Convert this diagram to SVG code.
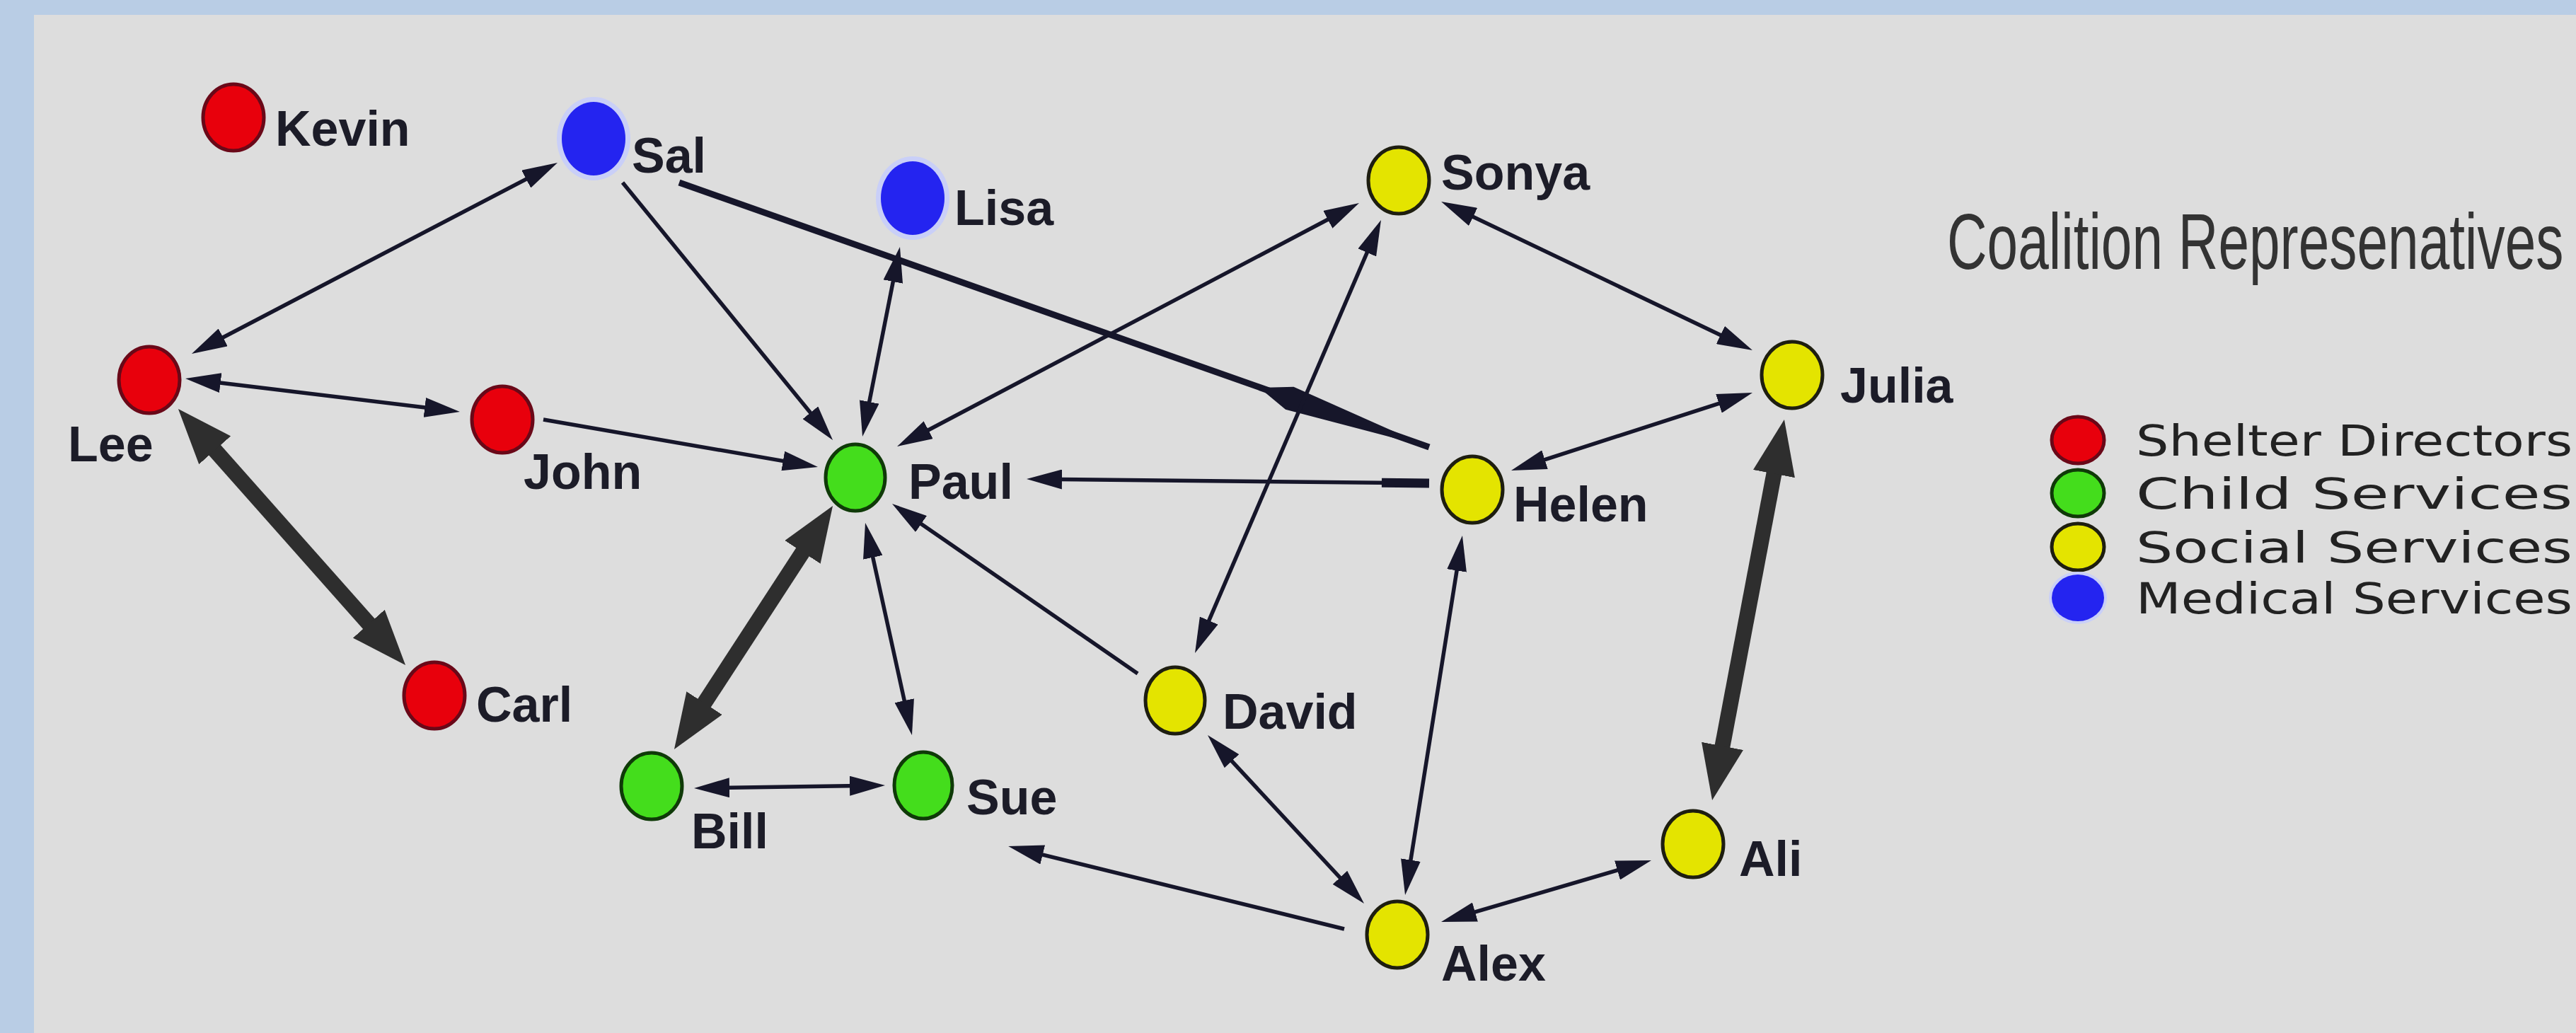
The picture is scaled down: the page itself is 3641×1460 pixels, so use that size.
<svg xmlns="http://www.w3.org/2000/svg" width="3641" height="1460" viewBox="0 0 3641 1460">
<defs>
<style>
.lbl{font-family:"Liberation Sans",Arial,sans-serif;font-weight:bold;font-size:70px;fill:#1c1c28}
.thin{stroke:#16162a;stroke-width:5.5;fill:none}
.thick{stroke:#2e2e2e;stroke-width:22;fill:none}
.red{fill:#e8000c;stroke:#6a0818;stroke-width:5}
.green{fill:#44dd1c;stroke:#0f3a08;stroke-width:5}
.yellow{fill:#e4e400;stroke:#1e1e10;stroke-width:5}
.blue{fill:#2424f0}
.halo{fill:#c9cff8}
.leg{font-family:"DejaVu Sans",Verdana,sans-serif;font-size:60px;fill:#222}
.title{font-family:"Liberation Sans",Arial,sans-serif;font-size:112px;fill:#333}
</style>
<marker id="a" markerUnits="userSpaceOnUse" viewBox="0 0 50 28" refX="30" refY="14" markerWidth="50" markerHeight="28" orient="auto-start-reverse">
<path d="M0,0 L50,14 L0,28 z" fill="#16162a"/>
</marker>
<marker id="A" markerUnits="userSpaceOnUse" viewBox="0 0 78 60" refX="38" refY="30" markerWidth="78" markerHeight="60" orient="auto-start-reverse">
<path d="M0,0 L78,30 L0,60 z" fill="#2e2e2e"/>
</marker>
</defs>
<rect x="0" y="0" width="3641" height="1460" fill="#b9cde5"/>
<rect x="48" y="21" width="3593" height="1439" fill="#dddddd"/>

<g id="connectors">
<line class="thin" x1="288.7" y1="490.7" x2="770.3" y2="239.3" marker-start="url(#a)" marker-end="url(#a)"/>
<line class="thin" x1="281.9" y1="537.4" x2="630.1" y2="579.6" marker-start="url(#a)" marker-end="url(#a)"/>
<line class="thick" x1="278.5" y1="607.9" x2="546.5" y2="910.1" marker-start="url(#A)" marker-end="url(#A)"/>
<line class="thin" x1="768" y1="593" x2="1136.3" y2="656.6" marker-end="url(#a)"/>
<line class="thin" x1="880" y1="258" x2="1164.4" y2="606.5" marker-end="url(#a)"/>
<line class="thin" x1="960" y1="258" x2="2020" y2="632" style="stroke-width:9"/>
<polygon points="1780,548 1828.5,546.7 2020,632 1817,578.7" fill="#16162a"/>
<line class="thin" x1="1268.1" y1="368.6" x2="1222.9" y2="597.4" marker-start="url(#a)" marker-end="url(#a)"/>
<line class="thin" x1="1903.3" y1="296.3" x2="1285.7" y2="621.7" marker-start="url(#a)" marker-end="url(#a)"/>
<line class="thin" x1="1944.1" y1="329.4" x2="1696.9" y2="904.6" marker-start="url(#a)" marker-end="url(#a)"/>
<line class="thin" x1="2055.1" y1="293.6" x2="2458.9" y2="486.4" marker-start="url(#a)" marker-end="url(#a)"/>
<line class="thin" x1="2458" y1="561.1" x2="2155" y2="658.9" marker-start="url(#a)" marker-end="url(#a)"/>
<line class="thin" x1="2020" y1="683" x2="1471" y2="677.2" marker-end="url(#a)"/>
<line class="thin" x1="1953" y1="682.3" x2="2020" y2="683" style="stroke-width:13"/>
<line class="thick" x1="1155.2" y1="748.5" x2="974.8" y2="1025.5" marker-start="url(#A)" marker-end="url(#A)"/>
<line class="thin" x1="1227.3" y1="758.5" x2="1284.7" y2="1019.5" marker-start="url(#a)" marker-end="url(#a)"/>
<line class="thin" x1="1608" y1="952" x2="1277.4" y2="723.4" marker-end="url(#a)"/>
<line class="thin" x1="1001" y1="1113.7" x2="1231" y2="1110.3" marker-start="url(#a)" marker-end="url(#a)"/>
<line class="thin" x1="1900" y1="1313" x2="1444.6" y2="1200.8" marker-end="url(#a)"/>
<line class="thin" x1="1720.6" y1="1053.7" x2="1914.4" y2="1262.3" marker-start="url(#a)" marker-end="url(#a)"/>
<line class="thin" x1="2063.8" y1="776.8" x2="1989.2" y2="1245.2" marker-start="url(#a)" marker-end="url(#a)"/>
<line class="thin" x1="2056.2" y1="1297.4" x2="2314.8" y2="1221.6" marker-start="url(#a)" marker-end="url(#a)"/>
<line class="thick" x1="2514.5" y1="632.3" x2="2427.5" y2="1091.7" marker-start="url(#A)" marker-end="url(#A)"/>
</g>

<g id="node-Kevin"><ellipse class="red" cx="330" cy="166" rx="43" ry="47"/><text class="lbl" x="389" y="206">Kevin</text></g>
<g id="node-Sal"><ellipse class="halo" cx="839" cy="196" rx="52" ry="59"/><ellipse class="blue" cx="839" cy="196" rx="45" ry="52"/><text class="lbl" x="893" y="244">Sal</text></g>
<g id="node-Lisa"><ellipse class="halo" cx="1290" cy="280" rx="52" ry="59"/><ellipse class="blue" cx="1290" cy="280" rx="45" ry="52"/><text class="lbl" x="1349" y="318">Lisa</text></g>
<g id="node-Sonya"><ellipse class="yellow" cx="1977" cy="255" rx="43" ry="47"/><text class="lbl" x="2037" y="268">Sonya</text></g>
<g id="node-Julia"><ellipse class="yellow" cx="2533" cy="530" rx="43" ry="47"/><text class="lbl" x="2601" y="569">Julia</text></g>
<g id="node-Lee"><ellipse class="red" cx="211" cy="537" rx="43" ry="47"/><text class="lbl" x="96" y="652">Lee</text></g>
<g id="node-John"><ellipse class="red" cx="710" cy="593" rx="43" ry="47"/><text class="lbl" x="740" y="691">John</text></g>
<g id="node-Paul"><ellipse class="green" cx="1209" cy="675" rx="42" ry="47"/><text class="lbl" x="1284" y="705">Paul</text></g>
<g id="node-Helen"><ellipse class="yellow" cx="2081" cy="692" rx="43" ry="47"/><text class="lbl" x="2139" y="737">Helen</text></g>
<g id="node-Carl"><ellipse class="red" cx="614" cy="983" rx="43" ry="47"/><text class="lbl" x="673" y="1020">Carl</text></g>
<g id="node-David"><ellipse class="yellow" cx="1661" cy="990" rx="42" ry="47"/><text class="lbl" x="1728" y="1030">David</text></g>
<g id="node-Bill"><ellipse class="green" cx="921" cy="1111" rx="43" ry="47"/><text class="lbl" x="977" y="1199">Bill</text></g>
<g id="node-Sue"><ellipse class="green" cx="1305" cy="1110" rx="41" ry="47"/><text class="lbl" x="1366" y="1151">Sue</text></g>
<g id="node-Ali"><ellipse class="yellow" cx="2393" cy="1193" rx="43" ry="47"/><text class="lbl" x="2458" y="1238">Ali</text></g>
<g id="node-Alex"><ellipse class="yellow" cx="1975" cy="1321" rx="43" ry="47"/><text class="lbl" x="2037" y="1386">Alex</text></g>

<g id="legend">
<text class="title" transform="translate(2752,380) scale(0.7,1)">Coalition Represenatives</text>
<ellipse class="red" cx="2937" cy="622" rx="37" ry="33"/>
<text class="leg" x="3019" y="644" textLength="617" lengthAdjust="spacingAndGlyphs">Shelter Directors</text>
<ellipse class="green" cx="2937" cy="697" rx="37" ry="33"/>
<text class="leg" x="3019" y="719" textLength="617" lengthAdjust="spacingAndGlyphs">Child Services</text>
<ellipse class="yellow" cx="2937" cy="773" rx="37" ry="33"/>
<text class="leg" x="3019" y="795" textLength="617" lengthAdjust="spacingAndGlyphs">Social Services</text>
<ellipse class="halo" cx="2937" cy="845" rx="41" ry="37"/>
<ellipse class="blue" cx="2937" cy="845" rx="37" ry="33"/>
<text class="leg" x="3019" y="867" textLength="617" lengthAdjust="spacingAndGlyphs">Medical Services</text>
</g>
</svg>
